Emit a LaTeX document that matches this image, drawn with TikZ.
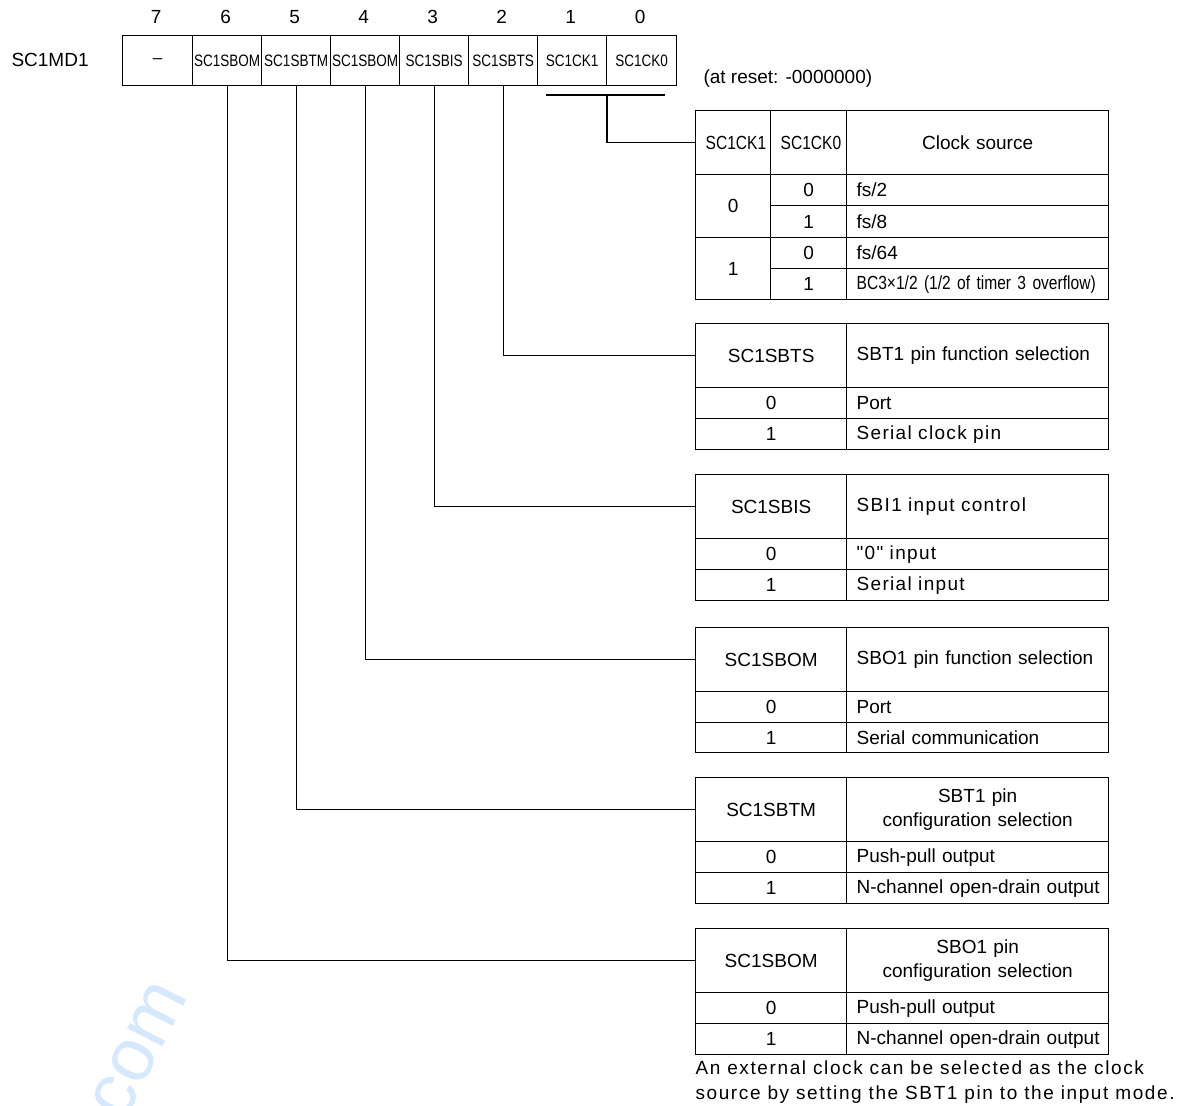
\documentclass[tikz,border=0pt]{standalone}
\usepackage{fontspec}
\setmainfont{Liberation Sans}
\newfontfamily\narrowf[FakeStretch=0.82]{Liberation Sans}
\newfontfamily\spacedf[LetterSpace=7]{Liberation Sans}
\newfontfamily\notef[LetterSpace=8.5]{Liberation Sans}
\definecolor{wm}{HTML}{D6E8FB}
\newcommand\tcell[7]{\node[cellbox, minimum height=#5pt, text width=\dimexpr#4pt-20pt\relax, align=#6] (#1) at (#2,#3) {#7};}
\newcommand\regcell[4]{\node[regbox, minimum width=#3pt] (#1) at (#2,35) {#4};}
\newcommand\stable[6]{%
  \tcell{#1h}{695}{#2}{151}{64}{center}{#3}
  \tcell{#1t}{846}{#2}{262}{64}{#6}{#4}
  \tcell{#1a}{695}{#2+64}{151}{31}{center}{0}
  \tcell{#1b}{846}{#2+64}{262}{31}{left}{#5}
}
\begin{document}
\begin{tikzpicture}[x=1pt,y=-1pt,
  font=\fontsize{19}{24}\selectfont,
  cellbox/.style={draw, line width=1.3pt, inner ysep=0pt, inner xsep=10pt, anchor=north west},
  regbox/.style={draw, line width=1.3pt, inner sep=0pt, anchor=north west, minimum height=50pt, font=\narrowf\fontsize{16.5}{18}\selectfont},
  conn/.style={line width=1.3pt}]
\useasboundingbox (0,0) rectangle (1185,1105);
\clip (0,0) rectangle (1185,1105);
% watermark
\node[rotate=63, text=wm, font=\fontsize{75}{80}\selectfont, inner sep=0pt] (wmk) at (139,1050) {com};
% register
\node[anchor=base west] (lbl) at (8,67) {SC1MD1};
\regcell{r7}{122}{70}{\normalfont\fontsize{17}{18}\selectfont –}
\regcell{r6}{192}{69}{SC1SBOM}
\regcell{r5}{261}{69}{SC1SBTM}
\regcell{r4}{330}{69}{SC1SBOM}
\regcell{r3}{399}{69}{SC1SBIS}
\regcell{r2}{468}{69}{SC1SBTS}
\regcell{r1}{537}{69}{SC1CK1}
\regcell{r0}{606}{70}{SC1CK0}
\foreach \b in {0,...,7} {\node[anchor=base] (n\b) at ([xshift=-1.5pt]r\b.north |- 0,24) {\b};}
\node[anchor=base west] (reset) at (700,84) {(at reset: -0000000)};
% clock table
\tcell{cka}{695}{110}{75}{64}{center}{\narrowf SC1CK1}
\tcell{ckb}{770}{110}{76}{64}{center}{\narrowf SC1CK0}
\tcell{ckc}{846}{110}{262}{64}{center}{Clock source}
\tcell{ck0}{695}{174}{75}{63}{center}{0}
\tcell{ck1}{695}{237}{75}{62}{center}{1}
\tcell{c00}{770}{174}{76}{31}{center}{0}
\tcell{v00}{846}{174}{262}{31}{left}{fs/2}
\tcell{c01}{770}{205}{76}{32}{center}{1}
\tcell{v01}{846}{205}{262}{32}{left}{fs/8}
\tcell{c10}{770}{237}{76}{31}{center}{0}
\tcell{v10}{846}{237}{262}{31}{left}{fs/64}
\tcell{c11}{770}{268}{76}{31}{center}{1}
\tcell{v11}{846}{268}{262}{31}{left}{\narrowf BC3×1/2 (1/2 of timer 3 overflow)}
% other tables
\stable{s}{323}{SC1SBTS}{SBT1 pin function selection}{Port}{left}
\tcell{sc}{695}{418}{151}{31}{center}{1}
\tcell{sd}{846}{418}{262}{31}{left}{\spacedf Serial clock pin}
\stable{i}{474}{SC1SBIS}{\spacedf SBI1 input control}{\spacedf "0" input}{left}
\tcell{ic}{695}{569}{151}{31}{center}{1}
\tcell{id}{846}{569}{262}{31}{left}{\spacedf Serial input}
\stable{o}{627}{SC1SBOM}{SBO1 pin function selection}{Port}{left}
\tcell{oc}{695}{722}{151}{30}{center}{1}
\tcell{od}{846}{722}{262}{30}{left}{Serial communication}
\stable{m}{777}{SC1SBTM}{SBT1 pin\\configuration selection}{Push-pull output}{center}
\tcell{mc}{695}{872}{151}{31}{center}{1}
\tcell{md}{846}{872}{262}{31}{left}{\mbox{N-channel open-drain output}}
\stable{p}{928}{SC1SBOM}{SBO1 pin\\configuration selection}{Push-pull output}{center}
\tcell{pc}{695}{1023}{151}{31}{center}{1}
\tcell{pd}{846}{1023}{262}{31}{left}{\mbox{N-channel open-drain output}}
% connectors
\coordinate (ckl) at (546,95);
\coordinate (ckr) at (665,95);
\coordinate (ckm) at (607,95);
\draw[conn] (ckl) -- (ckr);
\draw[conn] (ckm) |- (cka.west);
\draw[conn] (r2.south) |- (sh.west);
\draw[conn] (r3.south) |- (ih.west);
\draw[conn] (r4.south) |- (oh.west);
\draw[conn] (r5.south) |- (mh.west);
\draw[conn] (r6.south) |- (ph.west);
% note
\node[anchor=base west, font=\notef\fontsize{19}{24}\selectfont] (note1) at (692,1074) {An external clock can be selected as the clock};
\node[anchor=base west, font=\notef\fontsize{19}{24}\selectfont] (note2) at (692,1099) {source by setting the SBT1 pin to the input mode.};
\end{tikzpicture}
\end{document}
